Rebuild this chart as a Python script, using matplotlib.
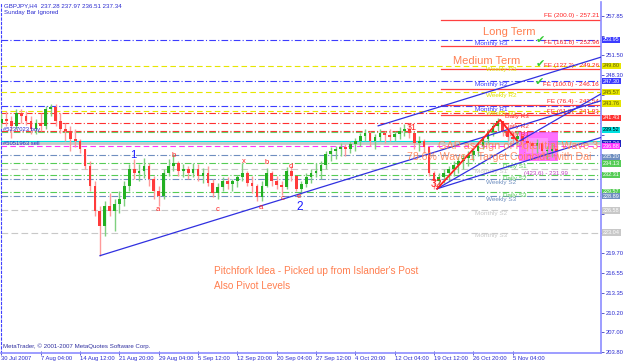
import matplotlib
matplotlib.use('Agg')
import matplotlib.pyplot as plt
import matplotlib.transforms as mtransforms
from matplotlib.patches import Rectangle

# ---------------- data ----------------
bar_step = 4            # each drawn candle groups 4 H4 bars
first_open = 240.6
highs = [242.25, 242.6, 241.8, 242.9, 242.9, 242.6, 241.8, 241.3, 242.25, 243.4,
         243.7, 243.7, 242.25, 240.65, 240.15, 239.7, 238.1, 236.5, 234.55, 231.35,
         227.35, 228.15, 229.45, 228.45, 229.75, 231.35, 234.1, 234.9, 234.1, 235.05,
         234.25, 232.15, 230.55, 233.3, 234.9, 235.7, 234.55, 234.1, 233.75, 234.25,
         234.1, 233.45, 233.75, 231.65, 231.05, 232.0, 232.0, 231.65, 232.3, 234.25,
         232.95, 232.15, 230.85, 231.35, 233.45, 232.95, 232.15, 231.35, 233.6, 233.75,
         232.15, 231.35, 232.65, 233.3, 234.25, 234.55, 236.15, 236.8, 236.95, 237.45,
         237.3, 237.75, 238.25, 239.05, 239.7, 239.35, 238.9, 239.7, 239.35, 239.7,
         239.35, 240.0, 240.5, 240.65, 239.05, 238.55, 238.1, 236.5, 232.95, 232.65,
         233.3, 233.75, 234.55, 235.2, 235.7, 236.15, 236.65, 237.75, 238.55, 239.7,
         240.65, 241.45, 240.95, 240.15, 239.35, 239.35, 238.9, 238.55, 237.75, 238.1,
         237.75, 236.95, 237.45, 236.95]
lows = [239.85, 240.15, 238.25, 239.7, 240.65, 240.35, 238.9, 238.9, 239.35, 239.7,
        241.8, 240.15, 239.05, 237.75, 236.15, 236.8, 235.85, 233.3, 229.75, 225.75,
        219.35, 222.55, 225.75, 223.35, 226.25, 227.35, 229.75, 231.65, 231.35, 231.85,
        230.55, 228.45, 227.35, 228.45, 232.15, 232.95, 232.15, 232.0, 231.65, 232.0,
        231.35, 231.05, 230.55, 228.8, 228.45, 229.75, 230.05, 229.75, 230.4, 231.35,
        230.55, 229.45, 228.15, 228.15, 230.4, 230.55, 230.05, 229.1, 230.05, 231.35,
        229.75, 229.25, 230.4, 231.05, 232.0, 231.65, 233.3, 234.55, 234.9, 235.35,
        235.35, 235.85, 236.15, 236.95, 237.75, 236.95, 236.5, 237.75, 237.45, 237.75,
        237.75, 238.1, 238.55, 238.25, 236.5, 236.15, 235.85, 232.15, 230.05, 230.4,
        231.05, 231.35, 232.15, 232.65, 233.3, 233.75, 234.55, 235.35, 236.5, 237.45,
        238.55, 239.35, 238.55, 237.75, 236.95, 237.3, 236.5, 236.15, 235.35, 235.85,
        235.2, 234.9, 235.2, 235.35]
closes = [241.3, 241.0, 240.15, 242.25, 241.8, 241.0, 239.7, 240.65, 240.15, 242.9,
          243.2, 241.0, 239.7, 239.35, 238.1, 237.75, 236.5, 233.75, 230.55, 226.55,
          224.15, 227.35, 226.55, 227.65, 228.45, 230.55, 233.3, 232.65, 232.95, 233.75,
          231.65, 229.75, 228.95, 232.65, 233.75, 234.25, 232.95, 233.3, 232.65, 233.3,
          232.15, 232.65, 231.05, 229.45, 230.4, 231.35, 230.85, 231.35, 232.0, 232.65,
          231.05, 230.55, 228.8, 230.55, 232.65, 231.35, 230.7, 230.4, 232.95, 232.15,
          230.05, 230.85, 232.0, 232.65, 232.95, 233.9, 235.7, 236.15, 236.5, 236.8,
          236.5, 237.3, 237.75, 238.55, 239.05, 237.75, 238.4, 239.05, 238.75, 238.4,
          238.9, 239.35, 239.7, 239.05, 237.45, 237.75, 236.8, 232.65, 231.35, 232.0,
          232.65, 233.3, 233.9, 234.55, 235.05, 235.5, 236.15, 236.95, 238.1, 239.2,
          240.15, 241.0, 239.35, 238.4, 238.1, 238.55, 237.75, 237.45, 236.95, 237.45,
          236.15, 236.15, 236.5, 236.15]

time_labels = ["30 Jul 2007", "7 Aug 04:00", "14 Aug 12:00", "21 Aug 20:00", "29 Aug 04:00",
               "5 Sep 12:00", "12 Sep 20:00", "20 Sep 04:00", "27 Sep 12:00", "4 Oct 20:00",
               "12 Oct 04:00", "19 Oct 12:00", "26 Oct 20:00", "5 Nov 04:00"]
bars_per_label = 32

price_ticks = [203.80, 207.00, 210.20, 213.35, 216.55, 219.70, 222.90, 226.05, 229.25,
               232.40, 235.60, 238.75, 241.95, 245.10, 248.30, 251.50, 254.65, 257.85]

# pivot levels: name, value, kind
pivot_names = ["Monthly R3", "Weekly R3", "Monthly R2", "Weekly R2", "Monthly R1", "Weekly R1",
               "Daily R3", "Daily R2", "Daily R1", "", "", "", "", "",
               "Daily S1", "Monthly S1", "Daily S2", "Weekly S2", "Daily S3", "Weekly S3",
               "Monthly S2", "Monthly S3"]
pivot_values = [253.95, 249.80, 247.30, 245.57, 243.35, 242.60,
                242.25, 240.64, 239.36, 239.10, 237.75, 237.45, 236.88, 235.55,
                234.13, 233.30, 232.30, 231.66, 229.57, 228.89,
                226.58, 223.04]
pivot_kind = ["M", "W", "M", "W", "M", "W",
              "D", "D", "D", "G", "C", "P", "X", "S",
              "GS", "MS", "GS", "WS", "GS", "WS",
              "MS", "MS"]

fe_ratios = ["200.0", "161.8", "127.2", "100.0", "76.4", "61.8"]
fe_values = [257.21, 252.96, 249.26, 246.16, 243.54, 241.93]

# price tags on the right axis
tag_values = [253.95, 249.80, 247.30, 245.57, 243.76, 241.43, 239.52, 237.34, 236.88,
              235.20, 234.13, 232.31, 229.57, 228.89, 226.58, 223.04]
tag_kind = ["M", "W", "M", "W", "W", "D", "C", "K", "X", "S", "GS", "GS", "GS", "WS", "MS", "MS"]

# trend / pitchfork anchor points (bar index, price)
chan_low_x, chan_low_y = [80.2, 488.0], [219.33, 244.2]
chan_up_x, chan_up_y = [306.6, 488.0], [240.17, 251.2]
fork_med_x, fork_med_y = [354.6, 488.0], [230.07, 245.3]
fork_low_x, fork_low_y = [354.6, 488.0], [230.07, 238.3]
zig_x, zig_y = [354.6, 405.9, 419.8], [230.07, 241.13, 237.76]

wave_text = ["1", "a", "b", "c", "x", "a", "b", "c", "d", "e", "2", "31", "32"]
wave_x = [107.1, 127.4, 140.5, 175.5, 197.5, 211.3, 216.2, 228.4, 235.7, 242.3, 243.1, 333.5, 353.8]
wave_y = [235.5, 226.67, 235.35, 226.67, 234.39, 227.0, 234.23, 228.45, 233.6, 228.77, 227.17, 239.84, 230.86]

# ---------------- styling ----------------
plt.rcParams['font.family'] = ['Liberation Sans', 'DejaVu Sans']
kind_color = {"M": "#3c3cff", "W": "#e6e600", "D": "#ff3030", "G": "#66cc66", "C": "#00e0e0",
              "P": "#c8c8c8", "X": "#ff33ff", "S": "#6f8fc0", "GS": "#55cc55", "MS": "#c8c8c8",
              "WS": "#6f8fc0", "K": "#2020c0"}
kind_style = {"M": (0, (6, 2, 1, 2)), "W": (0, (5, 3)), "D": (0, (6, 2, 1, 2)), "G": (0, (6, 2, 1, 2)),
              "C": "-", "P": "-", "X": (0, (5, 3)), "S": (0, (6, 2, 1, 2)), "GS": (0, (6, 2, 1, 2)),
              "MS": (0, (6, 3)), "WS": (0, (6, 2, 1, 2)), "K": "-"}
label_px = {"M": 475, "W": 486, "D": 505, "GS": 503, "MS": 475, "WS": 486}
tag_text_color = {"W": "#606000", "C": "#000000", "GS": "white", "MS": "white"}

W, H = 625, 363
fig = plt.figure(figsize=(W / 100, H / 100), dpi=100)
fig.patch.set_facecolor('white')
ax_l, ax_r, ax_t, ax_b = 1.5, 600.5, 1.5, 352.5
ax = fig.add_axes([ax_l / W, 1 - ax_b / H, (ax_r - ax_l) / W, (ax_b - ax_t) / H])
xmax = 487.6
ax.set_xlim(0, xmax)
ax.set_ylim(203.78, 260.13)


def px_x(px):
    return (px - ax_l) / (ax_r - ax_l) * xmax


def ax_fx(px):
    return (px - ax_l) / (ax_r - ax_l)


def ax_fy(py):
    return (ax_b - py) / (ax_b - ax_t)


# horizontal pivot lines
for name, val, k in zip(pivot_names, pivot_values, pivot_kind):
    lw = 2.0 if k == "P" else 0.8
    ax.axhline(val, color=kind_color[k], ls=kind_style[k], lw=lw, zorder=1)
    if name:
        ax.text(px_x(label_px[k]), val - 0.12, name, color=kind_color[k] if k != "W" else "#e0e000",
                fontsize=4.6, va='top', ha='left', zorder=6)

# FE lines
fe_start = px_x(441)
for r, v in zip(fe_ratios, fe_values):
    ax.plot([fe_start, xmax], [v, v], color='#ff4040', lw=0.9, zorder=2)
    ax.text(px_x(599), v + 0.2, f"FE ({r}) - {v:.2f}", color='#ff2020', fontsize=4.6,
            ha='right', va='bottom', zorder=6)

# magenta projection zone
ax.add_patch(Rectangle((px_x(519), 234.6), px_x(558) - px_x(519), 4.6, facecolor='#ff40ff',
                       edgecolor='none', alpha=0.75, zorder=3))
ax.add_patch(Rectangle((px_x(526), 235.8), px_x(548) - px_x(526), 2.4, facecolor='#ff99ff',
                       edgecolor='none', alpha=0.8, zorder=3))
ax.add_patch(Rectangle((px_x(509), 237.4), px_x(520) - px_x(509), 1.2, facecolor='#c0f0ff',
                       edgecolor='none', alpha=0.9, zorder=3))

# candles
opens = [first_open] + closes[:-1]
for i, (o, h, l, c) in enumerate(zip(opens, highs, lows, closes)):
    xi = i * bar_step
    up = c >= o
    body_col = '#22b022' if up else '#ff3b3b'
    wick_col = '#7fd07f' if up else '#ff9a9a'
    ax.plot([xi, xi], [l, h], color=wick_col, lw=1.0, zorder=4, solid_capstyle='butt')
    lo_b, hi_b = min(o, c), max(o, c)
    if hi_b - lo_b < 0.15:
        hi_b = lo_b + 0.15
    ax.add_patch(Rectangle((xi - 1.1, lo_b), 2.2, hi_b - lo_b, facecolor=body_col,
                           edgecolor='none', zorder=5))

# trend lines / pitchfork
ax.plot(chan_low_x, chan_low_y, color='#3030e0', lw=0.9, zorder=6)
ax.plot(chan_up_x, chan_up_y, color='#3030e0', lw=0.9, zorder=6)
ax.plot(fork_med_x, fork_med_y, color='#3030e0', lw=0.9, zorder=6)
ax.plot(fork_low_x, fork_low_y, color='#3030e0', lw=0.9, zorder=6)
ax.plot(zig_x, zig_y, color='#ff2020', lw=1.3, zorder=7)

# wave labels
for t, x, y in zip(wave_text, wave_x, wave_y):
    if t in ("1", "2"):
        ax.text(x, y, t, color='#1a1aff', fontsize=8.5 if t == "2" else 8, ha='center', va='center', zorder=8)
    elif t in ("31", "32"):
        ax.text(x, y, t, color='#ff2020', fontsize=7.5 if t == "32" else 6.5, ha='center', va='center', zorder=8)
    else:
        ax.text(x, y, t, color='#ff2020', fontsize=5.5, ha='center', va='center', zorder=8)

# annotations
coral = '#ff7f50'
ax.text(ax_fx(483), ax_fy(32), "Long Term", transform=ax.transAxes, color=coral, fontsize=8,
        ha='left', va='center', zorder=9)
ax.text(ax_fx(453), ax_fy(61), "Medium Term", transform=ax.transAxes, color=coral, fontsize=8,
        ha='left', va='center', zorder=9)
for cx, cy in [(540, 40), (540, 64), (539, 82)]:
    ax.text(ax_fx(cx), ax_fy(cy), "\u2714", transform=ax.transAxes, color='#33cc33',
            fontsize=8, ha='center', va='center', family='DejaVu Sans', zorder=9)
ax.text(ax_fx(438), ax_fy(146), "GAP as Sign of Potential Wave 3", transform=ax.transAxes,
        color=coral, fontsize=7.8, ha='left', va='center', alpha=0.85, zorder=9, clip_on=True)
ax.text(ax_fx(407), ax_fy(157), "78.6% Wave 1 Target Coincide with Dai", transform=ax.transAxes,
        color=coral, fontsize=7.6, ha='left', va='center', alpha=0.85, zorder=9, clip_on=True)
ax.text(ax_fx(524), ax_fy(174), "(423.6) - 231.99", transform=ax.transAxes, color='#c040c0',
        fontsize=4.4, ha='left', va='center', zorder=9)
ax.text(ax_fx(214), ax_fy(271), "Pitchfork Idea - Picked up from Islander's Post", transform=ax.transAxes,
        color=coral, fontsize=7.2, ha='left', va='center', zorder=9)
ax.text(ax_fx(214), ax_fy(286), "Also Pivot Levels", transform=ax.transAxes,
        color=coral, fontsize=7.2, ha='left', va='center', zorder=9)

small_blue = '#2a2ad0'
ax.text(ax_fx(4), ax_fy(3), "GBPJPY,H4  237.28 237.97 236.51 237.34", transform=ax.transAxes,
        color=small_blue, fontsize=4.4, ha='left', va='top', zorder=9)
ax.text(ax_fx(4), ax_fy(10), "Sunday Bar Ignored", transform=ax.transAxes,
        color=small_blue, fontsize=4.4, ha='left', va='top', zorder=9)
ax.text(ax_fx(3), ax_fy(129), "#5237023 buy", transform=ax.transAxes,
        color=small_blue, fontsize=4.2, ha='left', va='center', zorder=9)
ax.text(ax_fx(3), ax_fy(143), "#5051963 sell", transform=ax.transAxes,
        color=small_blue, fontsize=4.2, ha='left', va='center', zorder=9)
ax.text(ax_fx(3), ax_fy(346), "MetaTrader, \u00a9 2001-2007 MetaQuotes Software Corp.", transform=ax.transAxes,
        color='#3030a0', fontsize=4.4, ha='left', va='center', zorder=9)

# axes styling
axis_col = '#8c8cff'
ax.spines['top'].set_visible(False)
ax.spines['left'].set_color('#4040ff')
ax.spines['left'].set_linestyle((0, (2, 2)))
ax.spines['left'].set_linewidth(0.8)
ax.spines['right'].set_color(axis_col)
ax.spines['bottom'].set_color(axis_col)
ax.spines['right'].set_linewidth(1.2)
ax.spines['bottom'].set_linewidth(1.2)

# tick labels hidden underneath a price tag are left blank (as on the terminal)
ax.yaxis.tick_right()
ax.set_yticks(price_ticks)
ax.set_yticklabels(["" if min(abs(v - t) for t in tag_values) < 0.9 else f"{v:.2f}"
                    for v in price_ticks])
ax.tick_params(axis='y', which='both', length=2, width=0.6, color='#4040c0', labelsize=4.2,
               labelcolor='#2a2ad0', pad=1.5, left=False, right=True)
ax.set_xticks([i * bars_per_label for i in range(len(time_labels))])
ax.set_xticklabels(time_labels)
ax.tick_params(axis='x', length=3, width=0.6, color='#4040c0', labelsize=4.2, labelcolor='#2a2ad0',
               pad=1.0, direction='inout')
for lbl in ax.get_xticklabels():
    lbl.set_ha('left')

# right-axis price tags
trans = mtransforms.blended_transform_factory(ax.transAxes, ax.transData)
for v, k in zip(tag_values, tag_kind):
    fc = kind_color[k]
    tc = tag_text_color.get(k, 'white')
    ax.text(1.0 + 2.5 / 599, v, f"{v:.2f}", transform=trans, fontsize=4.0, color=tc,
            ha='left', va='center', zorder=10, clip_on=False,
            bbox=dict(boxstyle='square,pad=0.1', facecolor=fc, edgecolor='none'))

fig.savefig('out.png', dpi=100)
